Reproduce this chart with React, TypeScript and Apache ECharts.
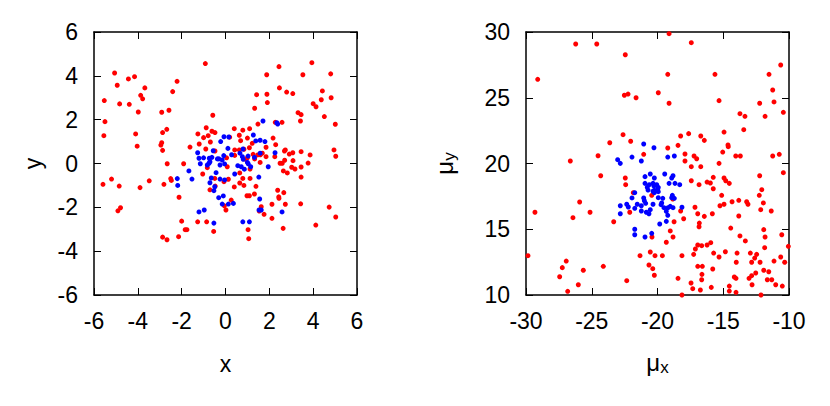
import React, { useEffect, useRef } from "react";
import * as echarts from "echarts";

const leftXTicks = { min: -6, max: 6, interval: 2 };
const leftYTicks = { min: -6, max: 6, interval: 2 };
const rightXTicks = { min: -30, max: -10, interval: 5 };
const rightYTicks = { min: 10, max: 30, interval: 5 };

const leftRed: number[][] = [
  [-0.92,4.56],[-5.06,4.13],[-4.15,3.96],[-4.43,3.86],[-4.94,3.57],[-3.68,3.45],[-2.21,3.75],[-2.41,3.28],[-3.87,3.11],[-3.78,2.95],[-5.53,2.87],[-4.83,2.72],[-4.39,2.70],[-2.58,2.43],[-2.91,2.34],[-3.98,2.35],[-0.58,2.20],[-5.50,1.91],[-0.88,1.63],[-2.68,1.56],[-2.87,1.41],[-4.10,1.35],[-5.55,1.27],[-1.26,1.35],[-0.62,1.47],[-0.48,1.41],[-0.79,1.27],[-1.00,1.18],[-0.69,0.98],[-2.91,0.95],[-2.95,0.84],[-1.20,0.89],[-4.03,0.79],[-1.62,0.75],[-2.87,0.60],[-0.90,0.66],[-0.48,0.57],[-2.66,-0.01],[-1.91,-0.01],
  [2.44,4.42],[3.94,4.60],[1.88,4.05],[3.53,4.05],[4.80,4.09],[2.46,3.45],[2.79,3.26],[3.07,3.19],[4.42,3.31],[1.42,3.14],[1.89,3.16],[4.82,3.00],[4.37,2.91],[1.91,2.78],[4.00,2.73],[4.13,2.59],[1.33,2.52],[3.31,2.32],[3.45,2.23],[4.51,2.14],[3.42,1.94],[5.01,1.79],[1.48,1.80],[2.27,1.88],[2.58,1.88],[0.40,1.59],[0.79,1.52],[1.10,1.59],[0.63,1.29],[0.19,1.20],[0.69,1.04],[2.17,1.16],[1.22,0.92],[2.29,0.86],[0.42,0.62],[0.63,0.62],[0.84,0.65],[1.09,0.72],[1.85,0.74],[2.73,0.62],[2.69,0.57],[3.07,0.49],[3.45,0.54],[4.95,0.62],[5.03,0.33],[2.91,0.43],[3.86,0.39],[1.26,0.42],[1.47,0.39],[1.59,0.40],[1.68,0.47],[1.85,0.31],[0.42,0.37],[0.05,0.26],[2.70,0.15],[2.49,0.01],[2.59,0.01],[3.77,0.02],[1.58,0.05],[1.00,0.26],
  [-5.59,-0.95],[-5.20,-0.71],[-4.85,-1.03],[-3.90,-1.10],[-3.48,-0.79],[-2.81,-0.95],[-2.50,-0.69],[-2.47,-0.77],[-2.12,-1.54],[-4.79,-2.02],[-4.91,-2.16],[-2.00,-2.63],[-1.84,-3.02],[-1.76,-3.02],[-2.87,-3.36],[-2.67,-3.48],[-2.14,-3.34],[-1.27,-2.66],[-0.86,-2.66],[-0.54,-3.10],[-1.04,-0.48],[-0.83,-0.19],[-0.49,-0.68],[-0.71,-1.20],[-0.07,-0.83],[0.13,-0.72],[-0.05,-1.93],[0.02,-2.12],[-0.47,-1.03],
  [3.45,-0.16],[3.17,-0.25],[3.02,-0.17],[3.45,-0.62],[2.82,-0.43],[2.64,-0.34],[3.08,0.13],[2.25,0.31],[1.33,0.21],[1.12,-0.25],[0.92,0.19],[1.39,-1.04],[1.32,-1.39],[1.12,-0.68],[0.79,-0.68],[0.65,-0.89],[0.40,-1.07],[0.84,-1.00],[0.08,-0.15],[2.38,-1.22],[2.66,-1.33],[2.43,-1.52],[2.44,-1.59],[0.98,-1.47],[1.09,-1.47],[0.26,-1.67],[1.63,-1.97],[1.54,-2.17],[1.76,-2.32],[2.12,-1.86],[2.12,-2.50],[2.73,-1.86],[3.43,-1.84],[4.73,-1.99],[5.03,-2.44],[4.12,-2.81],[2.63,-2.96],[1.03,-3.02],[1.06,-3.43],[1.00,1.16],[0.65,-0.43]
];

const leftBlue: number[][] = [
  [1.71,1.94],[2.34,1.86],[2.38,1.80],[-0.07,1.22],[0.15,1.21],[-0.22,1.00],[1.27,1.30],[1.38,1.03],[1.58,1.06],[1.80,1.00],[0.11,0.69],[0.66,0.47],[0.77,0.31],[0.81,0.19],[1.03,0.34],[0.28,0.40],[1.32,0.28],[1.58,0.47],[2.26,0.49],[-1.27,0.49],[-1.21,0.24],[-1.00,0.26],[-0.74,0.24],[-0.56,0.58],[-0.75,0.01],[-0.71,0.08],[-0.83,-0.07],[-0.37,0.21],[-0.30,0.21],[-0.15,0.16],[-0.08,0.36],[-0.25,-0.07],[-0.04,-0.02],[0.56,-0.10],[0.72,-0.15],[0.86,-0.26],[1.15,-0.15],[1.04,-0.02],[1.95,-0.15],[-1.67,-0.34],[-0.43,-0.42],[-1.53,-0.71],[-2.20,-0.69],[-2.18,-1.00],[-0.65,-0.66],[-0.71,-0.88],[-0.49,-1.06],[-0.25,-0.71],[-0.04,-0.75],[1.52,-0.62],[-0.10,-1.48],[-0.31,-1.56],[-0.15,-1.85],[0.13,-1.85],[0.36,-1.82],[1.56,-1.62],[1.53,-2.12],[1.63,-2.12],[-1.21,-2.21],[-0.97,-2.12],[-0.53,-2.72],[0.79,-2.66],[1.09,-2.66],[2.58,-2.21],[0.42,-0.48],[0.80,0.66],[1.00,0.05],[-0.62,0.28],[-1.15,-0.01],[-0.53,-1.24]
];

const rightRed: number[][] = [
  [-26.22,29.09],[-24.62,29.09],[-22.45,28.27],[-29.11,26.40],[-22.52,25.19],[-22.24,25.28],[-21.63,25.00],[-22.62,22.19],[-23.63,21.58],[-22.04,21.69],[-21.05,20.70],[-24.52,20.59],[-26.63,20.19],
  [-19.12,29.87],[-17.43,29.19],[-10.63,27.49],[-19.22,26.78],[-15.63,26.78],[-11.52,26.78],[-11.24,25.59],[-19.94,25.38],[-19.12,24.58],[-15.32,24.78],[-12.23,24.58],[-11.14,24.68],[-13.73,23.79],[-13.35,23.59],[-11.82,23.59],[-10.43,23.89],[-13.44,22.57],[-14.94,22.39],[-18.24,22.09],[-17.63,22.27],[-16.71,22.09],[-16.44,21.76],[-18.44,21.38],[-14.64,21.41],[-14.62,21.28],[-19.22,21.18],[-15.04,20.87],[-17.91,20.72],[-17.22,20.57],[-17.02,20.36],[-14.05,20.57],[-13.70,20.57],[-11.24,20.57],[-10.74,20.70],[-17.91,20.19],[-15.32,20.01],
  [-24.32,19.07],[-22.45,18.90],[-22.42,18.39],[-21.84,17.78],[-25.92,17.07],[-29.32,16.29],[-26.43,15.88],[-25.13,16.29],[-22.11,16.29],[-23.33,15.57],[-20.44,17.58],[-20.42,14.41],[-29.85,12.99],[-26.94,12.58],[-27.24,12.08],[-25.64,11.88],[-27.44,11.39],[-24.12,12.18],[-21.33,12.99],[-20.55,13.27],[-20.65,12.28],[-20.36,12.00],[-20.24,11.50],[-22.34,11.09],[-26.02,10.78],[-26.83,10.28],[-20.19,12.99],
  [-17.43,19.76],[-16.71,19.76],[-10.43,19.30],[-12.23,19.07],[-15.76,18.95],[-16.23,18.59],[-15.98,18.52],[-16.84,18.39],[-14.94,18.90],[-14.81,18.69],[-14.54,18.49],[-17.43,18.69],[-15.76,18.08],[-12.07,18.01],[-15.12,17.58],[-12.26,17.58],[-14.33,17.09],[-13.82,17.20],[-13.22,17.09],[-13.12,16.90],[-15.25,16.79],[-14.94,16.90],[-11.95,17.00],[-12.15,16.49],[-11.35,16.39],[-17.15,16.67],[-18.24,16.39],[-18.01,15.80],[-16.94,16.18],[-16.44,15.98],[-15.83,16.18],[-13.82,16.01],[-18.74,15.57],[-16.82,15.47],[-16.84,15.19],[-14.43,15.09],[-19.03,14.87],[-18.82,14.41],[-19.33,14.01],[-11.92,14.97],[-11.82,14.41],[-10.55,14.58],[-13.73,14.49],[-13.32,14.11],[-15.95,13.98],[-16.23,13.80],[-16.64,13.75],[-16.94,13.80],[-10.05,13.70],[-11.85,13.60],[-12.46,13.09],[-12.94,13.19],[-17.12,13.50],[-17.25,13.09],[-14.84,13.29],[-15.73,13.19],[-15.32,12.89],[-13.95,13.19],[-14.01,12.49],[-19.63,12.99],[-18.14,12.99],[-10.63,12.89],[-11.14,12.58],[-10.33,12.49],[-12.61,12.81],[-12.84,12.49],[-12.20,12.49],[-16.94,12.18],[-16.59,12.18],[-15.80,11.98],[-11.92,11.88],[-11.54,11.77],[-16.62,11.57],[-16.64,11.16],[-18.44,11.27],[-14.16,11.37],[-14.03,11.27],[-12.53,11.67],[-12.84,11.47],[-13.04,11.27],[-11.65,11.16],[-11.31,11.16],[-17.45,10.91],[-17.32,10.48],[-16.74,10.38],[-15.91,10.58],[-14.54,10.68],[-14.54,10.30],[-14.03,10.20],[-12.81,10.78],[-11.01,10.78],[-10.51,10.68],[-18.14,10.00],[-12.13,10.00],[-18.84,17.30]
];

const rightBlue: number[][] = [
  [-21.05,21.48],[-20.27,21.20],[-23.03,20.29],[-22.83,20.01],[-21.94,20.49],[-21.23,20.19],[-19.22,20.49],[-18.72,20.57],
  [-20.55,19.20],[-20.24,18.90],[-20.95,19.00],[-20.95,18.49],[-20.62,18.39],[-21.73,17.78],[-20.34,18.49],[-20.27,18.29],[-20.34,17.89],[-20.24,17.78],[-21.94,17.38],[-21.05,17.38],[-21.00,17.17],[-20.90,16.97],[-22.83,16.79],[-22.34,16.90],[-22.22,16.69],[-21.54,16.90],[-21.23,16.79],[-21.73,16.59],[-20.34,16.90],[-20.55,16.49],[-21.23,16.39],[-20.85,16.29],[-20.65,16.18],[-22.83,16.18],[-21.73,15.00],[-21.73,14.58],[-20.44,14.69],[-20.95,14.41],
  [-19.45,19.20],[-18.82,19.07],[-18.92,18.90],[-19.12,18.49],[-18.67,18.49],[-18.31,18.39],[-20.06,18.39],[-19.94,18.19],[-19.98,18.06],[-20.24,17.96],[-19.94,17.86],[-20.78,18.19],[-20.72,17.98],[-18.87,17.58],[-18.92,17.40],[-18.72,17.35],[-19.94,17.40],[-19.60,17.35],[-19.73,16.87],[-19.51,16.64],[-19.20,16.64],[-19.33,16.36],[-19.22,16.06],[-18.82,16.64],[-18.14,16.67],[-19.83,15.40],[-19.33,15.60],[-19.68,17.00],[-19.03,16.74]
];

const FONT = "'Liberation Sans', Arial, Helvetica, sans-serif";
const frameColor = "#000";

function axisPair(grid: number, ticks: { min: number; max: number; interval: number }, isX: boolean, name: string, nameGap: number, rich?: any) {
  const common = {
    type: "value",
    gridIndex: grid,
    min: ticks.min,
    max: ticks.max,
    interval: ticks.interval,
    splitLine: { show: false },
    axisLine: { show: true, onZero: false, lineStyle: { color: frameColor, width: 1.5 } },
    axisTick: { show: true, inside: true, length: 7, lineStyle: { color: frameColor, width: 1 } },
  };
  const main = {
    ...common,
    position: isX ? "bottom" : "left",
    axisLabel: { show: true, color: "#000", fontSize: 23, fontFamily: FONT, margin: isX ? 14 : 16 },
    name,
    nameLocation: "middle",
    nameGap,
    nameTextStyle: { color: "#000", fontSize: 23, fontFamily: FONT, rich },
  };
  const mirror = {
    ...common,
    position: isX ? "top" : "right",
    axisLabel: { show: false },
  };
  return [main, mirror];
}

export default function App() {
  const ref = useRef<HTMLDivElement>(null);
  useEffect(() => {
    if (!ref.current) return;
    const chart = echarts.init(ref.current, null, { renderer: "svg" });
    const richMu = {
      m: { fontSize: 24, fontFamily: FONT, color: "#000", lineHeight: 26, verticalAlign: "top" },
      s: { fontSize: 17, fontFamily: FONT, color: "#000", lineHeight: 18, padding: [10, 0, 0, 0], verticalAlign: "bottom" },
    };
    const lx = axisPair(0, leftXTicks, true, "x", 57);
    const ly = axisPair(0, leftYTicks, false, "y", 50);
    const rx = axisPair(1, rightXTicks, true, "{m|μ}{s|x}", 55, richMu);
    const ry = axisPair(1, rightYTicks, false, "{m|μ}{s|y}", 68, richMu);
    chart.setOption({
      animation: false,
      backgroundColor: "#fff",
      grid: [
        { left: 94, top: 32, width: 263, height: 263 },
        { left: 526, top: 32, width: 263, height: 263 },
      ],
      xAxis: [...lx, ...rx],
      yAxis: [...ly, ...ry],
      series: [
        { type: "scatter", xAxisIndex: 0, yAxisIndex: 0, data: leftRed, symbol: "circle", symbolSize: 5, itemStyle: { color: "#ff0000", opacity: 1 } },
        { type: "scatter", xAxisIndex: 0, yAxisIndex: 0, data: leftBlue, symbol: "circle", symbolSize: 5, itemStyle: { color: "#0000ff", opacity: 1 } },
        { type: "scatter", xAxisIndex: 2, yAxisIndex: 2, data: rightRed, symbol: "circle", symbolSize: 5, itemStyle: { color: "#ff0000", opacity: 1 } },
        { type: "scatter", xAxisIndex: 2, yAxisIndex: 2, data: rightBlue, symbol: "circle", symbolSize: 5, itemStyle: { color: "#0000ff", opacity: 1 } },
      ],
    });
    return () => chart.dispose();
  }, []);
  return <div ref={ref} style={{ position: "fixed", left: 0, top: 0, width: 830, height: 406 }} />;
}
